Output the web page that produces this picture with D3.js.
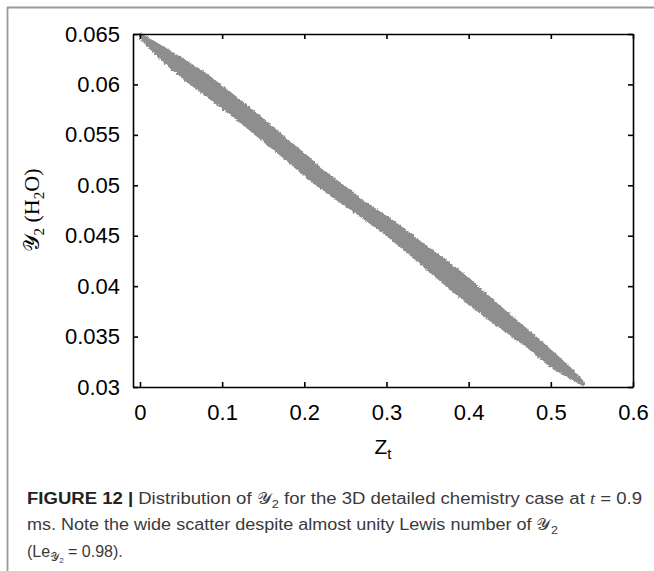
<!DOCTYPE html>
<html>
<head>
<meta charset="utf-8">
<script src="https://cdn.jsdelivr.net/npm/d3@7"></script>
<style>
    body { margin: 0; background: #fff; }
    .axis path, .axis line { stroke: #000; stroke-width: 1.6; }
    .axis text { font-family: "Liberation Sans", Arial, sans-serif; font-size: 22px; fill: #000; }
</style>
</head>
<body>
<div id="chart"></div>
<script>

// band of the scatter: Z_t, upper and lower edge of Y2
const zVals  = [0.0, 0.025, 0.05, 0.075, 0.1, 0.125, 0.15, 0.175, 0.2, 0.225, 0.25, 0.275, 0.3, 0.325, 0.35, 0.375, 0.4, 0.425, 0.45, 0.475, 0.5, 0.525, 0.54]
const upperY = [0.0650, 0.06381, 0.06256, 0.06127, 0.05975, 0.05816, 0.05647, 0.05475, 0.05305, 0.05130, 0.04975, 0.04818, 0.04686, 0.04537, 0.04378, 0.04232, 0.04066, 0.03887, 0.03709, 0.03536, 0.03357, 0.03169, 0.0304]
const lowerY = [0.0647, 0.06262, 0.06084, 0.05927, 0.05772, 0.05615, 0.05445, 0.05280, 0.05107, 0.04948, 0.04805, 0.04660, 0.04510, 0.04345, 0.04170, 0.03995, 0.03830, 0.03674, 0.03526, 0.03380, 0.03208, 0.03089, 0.0302]

const xTicks = [0, 0.1, 0.2, 0.3, 0.4, 0.5, 0.6]
const xTickLabels = ["0", "0.1", "0.2", "0.3", "0.4", "0.5", "0.6"]
const yTicks = [0.03, 0.035, 0.04, 0.045, 0.05, 0.055, 0.06, 0.065]
const yTickLabels = ["0.03", "0.035", "0.04", "0.045", "0.05", "0.055", "0.06", "0.065"]

let W = 654, H = 571
let margin = {top: 34, left: 133, right: 21, bottom: 184}
let width = W - margin.left - margin.right
let height = H - margin.top - margin.bottom

let svg = d3.select("#chart").append("svg")
    .attr("width", W)
    .attr("height", H)

// frame lines of the figure page
svg.append("line").attr("x1", 7).attr("y1", 7.5).attr("x2", W).attr("y2", 7.5)
    .attr("stroke", "#9a9a9a").attr("stroke-width", 1.8)
svg.append("line").attr("x1", 7.5).attr("y1", 7).attr("x2", 7.5).attr("y2", H)
    .attr("stroke", "#9a9a9a").attr("stroke-width", 1.8)

// rough edge filter so the band looks like dense scatter
let defs = svg.append("defs")
let filt = defs.append("filter").attr("id", "rough")
    .attr("x", "-5%").attr("y", "-5%").attr("width", "110%").attr("height", "110%")
filt.append("feTurbulence").attr("type", "fractalNoise").attr("baseFrequency", 0.45)
    .attr("numOctaves", 2).attr("seed", 3).attr("result", "noise")
filt.append("feDisplacementMap").attr("in", "SourceGraphic").attr("in2", "noise")
    .attr("scale", 3.5).attr("xChannelSelector", "R").attr("yChannelSelector", "G")

let g = svg.append("g").attr("transform", `translate(${margin.left},${margin.top})`)

// scales
let x = d3.scaleLinear().domain([-0.0085, 0.6]).range([0, width])
let y = d3.scaleLinear().domain([0.03, 0.065]).range([height, 0])

let band = zVals.map((z, i) => ({z: z, hi: upperY[i], lo: lowerY[i]}))

g.append("path")
    .datum(band)
    .attr("fill", "#8e8e8e")
    .attr("stroke", "#8e8e8e")
    .attr("stroke-width", 2.5)
    .attr("stroke-linejoin", "round")
    .attr("filter", "url(#rough)")
    .attr("d", d3.area()
        .x(d => x(d.z))
        .y0(d => y(d.lo))
        .y1(d => y(d.hi))
        .curve(d3.curveMonotoneX))

// axes, ticks pointing inward
g.append("g").attr("class", "axis")
    .attr("transform", `translate(0,${height})`)
    .call(d3.axisBottom(x).tickValues(xTicks).tickSizeInner(-5).tickSizeOuter(0).tickPadding(17)
        .tickFormat((d, i) => xTickLabels[i]))

g.append("g").attr("class", "axis")
    .call(d3.axisLeft(y).tickValues(yTicks).tickSizeInner(-5).tickSizeOuter(0).tickPadding(13)
        .tickFormat((d, i) => yTickLabels[i]))

g.append("g").attr("class", "axis")
    .call(d3.axisTop(x).tickValues(xTicks).tickSizeInner(-5).tickSizeOuter(0).tickFormat(""))

g.append("g").attr("class", "axis")
    .attr("transform", `translate(${width},0)`)
    .call(d3.axisRight(y).tickValues(yTicks).tickSizeInner(-5).tickSizeOuter(0).tickFormat(""))

// axis titles
let xt = svg.append("text")
    .attr("x", margin.left + width / 2)
    .attr("y", 454)
    .attr("text-anchor", "middle")
    .style("font-family", "Liberation Sans, Arial, sans-serif")
    .style("font-size", "21px")
xt.append("tspan").text("Z")
xt.append("tspan").attr("dy", 5).style("font-size", "15px").text("t")

let yt = svg.append("text")
    .attr("transform", `translate(39,${margin.top + height / 2}) rotate(-90)`)
    .attr("text-anchor", "middle")
    .style("font-family", "Liberation Serif, 'DejaVu Serif', serif")
    .style("font-size", "22px")
yt.append("tspan").text("𝒴")
yt.append("tspan").attr("dy", 5).style("font-size", "15px").text("2")
yt.append("tspan").attr("dy", -5).text(" (H")
yt.append("tspan").attr("dy", 5).style("font-size", "15px").text("2")
yt.append("tspan").attr("dy", -5).text("O)")

// caption
let cap = svg.append("g")
    .style("font-family", "Liberation Sans, Arial, sans-serif")
    .style("font-size", "16px")
    .style("fill", "#3a3a3a")

let l1 = cap.append("text").attr("x", 27).attr("y", 504)
    .attr("textLength", 615).attr("lengthAdjust", "spacingAndGlyphs")
l1.append("tspan").style("font-weight", "bold").style("fill", "#222").text("FIGURE 12 |")
l1.append("tspan").text(" Distribution of ")
l1.append("tspan").style("font-family", "DejaVu Serif, serif").text("𝒴")
l1.append("tspan").attr("dy", 4).style("font-size", "11px").text("2")
l1.append("tspan").attr("dy", -4).text(" for the 3D detailed chemistry case at ")
l1.append("tspan").style("font-family", "Liberation Serif, serif").style("font-style", "italic").text("t")
l1.append("tspan").text("  =  0.9")

let l2 = cap.append("text").attr("x", 27).attr("y", 530)
    .attr("textLength", 531).attr("lengthAdjust", "spacingAndGlyphs")
l2.append("tspan").text("ms. Note the wide scatter despite almost unity Lewis number of ")
l2.append("tspan").style("font-family", "DejaVu Serif, serif").text("𝒴")
l2.append("tspan").attr("dy", 4).style("font-size", "11px").text("2")

let l3 = cap.append("text").attr("x", 27).attr("y", 557)
l3.append("tspan").text("(Le")
l3.append("tspan").attr("dy", 4).style("font-family", "DejaVu Serif, serif").style("font-size", "12px").text("𝒴")
l3.append("tspan").attr("dy", 2).style("font-size", "8px").text("2")
l3.append("tspan").attr("dy", -6).text("  =  0.98).")

</script>
</body>
</html>
